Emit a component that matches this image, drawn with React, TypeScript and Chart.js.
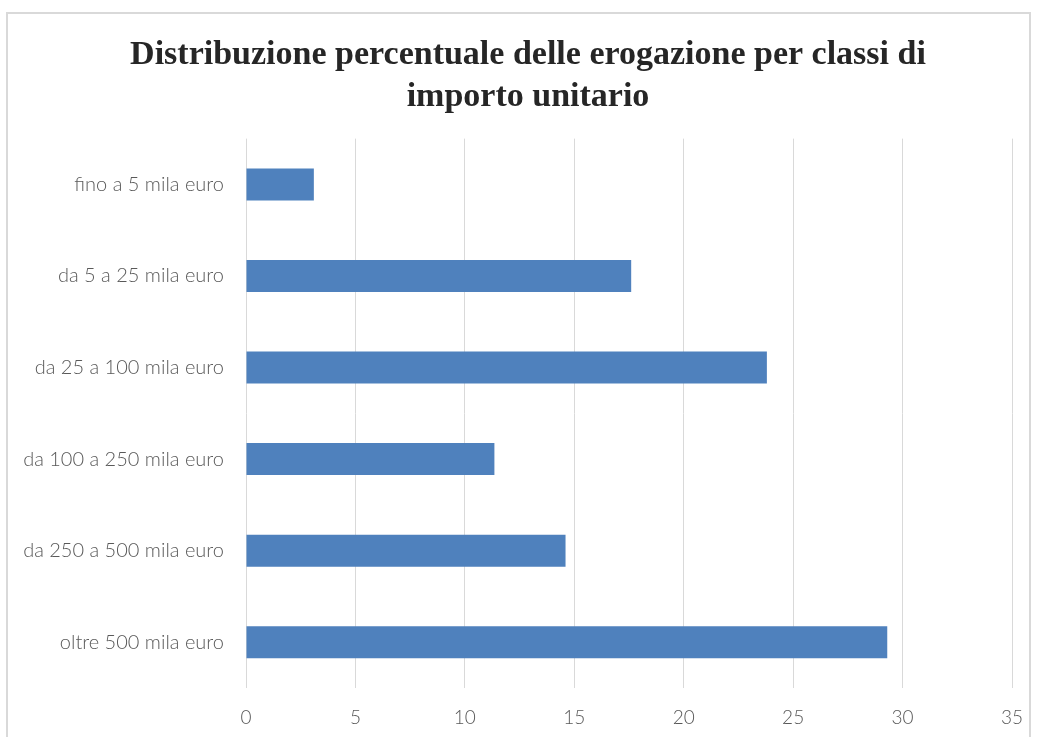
import React, { useEffect, useRef } from "react";
import { Chart, registerables } from "chart.js";

Chart.register(...registerables);

const categories = [
  "fino a 5 mila euro",
  "da 5 a 25 mila euro",
  "da 25 a 100 mila euro",
  "da 100 a 250 mila euro",
  "da 250 a 500 mila euro",
  "oltre 500 mila euro",
];
const values = [3.1, 17.6, 23.8, 11.35, 14.6, 29.3];
const titleLines = ["Distribuzione percentuale delle erogazione per classi di", "importo unitario"];
const xMin = 0;
const xMax = 35;
const xStep = 5;

export default function App() {
  const ref = useRef<HTMLCanvasElement | null>(null);
  useEffect(() => {
    if (!ref.current) return;
    const chart = new Chart(ref.current, {
      type: "bar",
      data: {
        labels: categories,
        datasets: [
          {
            data: values,
            backgroundColor: "#4f81bd",
            borderWidth: 0,
            categoryPercentage: 1,
            barPercentage: 0.35,
          },
        ],
      },
      options: {
        indexAxis: "y",
        animation: false,
        responsive: false,
        maintainAspectRatio: false,
        layout: { padding: { left: 18, right: 0, top: 0, bottom: 0 } },
        plugins: {
          legend: { display: false },
          tooltip: { enabled: false },
          title: {
            display: true,
            text: titleLines,
            color: "#262626",
            font: { family: "'Liberation Serif', 'Times New Roman', serif", size: 34, weight: "bold", lineHeight: 1.23 },
            padding: { top: 34, bottom: 21 },
          },
        },
        scales: {
          x: {
            min: xMin,
            max: xMax,
            ticks: {
              stepSize: xStep,
              color: "#595959",
              padding: 18,
              font: { family: "Lato, 'Open Sans', sans-serif", size: 19, weight: "300" },
            },
            grid: { color: "#d9d9d9", lineWidth: 1, drawTicks: false },
            border: { display: false },
            afterFit: (s: any) => {
              s.height = 49;
              s.paddingLeft = 0;
              s.paddingRight = 26;
            },
          },
          y: {
            ticks: {
              color: "#595959",
              padding: 22,
              font: { family: "Lato, 'Open Sans', sans-serif", size: 20, weight: "300" },
            },
            grid: { display: false, drawTicks: false },
            border: { display: false },
            afterFit: (s: any) => {
              s.width = 228;
              s.paddingTop = 0;
              s.paddingBottom = 0;
            },
          },
        },
      },
    });
    return () => chart.destroy();
  }, []);

  return (
    <div style={{ position: "fixed", left: 0, top: 0, width: 1038, height: 737, background: "#fff", overflow: "hidden" }}>
      <div
        style={{
          position: "absolute",
          left: 6,
          top: 12,
          width: 1025,
          height: 760,
          border: "2px solid #d9d9d9",
          boxSizing: "border-box",
        }}
      />
      <canvas ref={ref} width={1038} height={737} style={{ position: "absolute", left: 0, top: 0 }} />
    </div>
  );
}
